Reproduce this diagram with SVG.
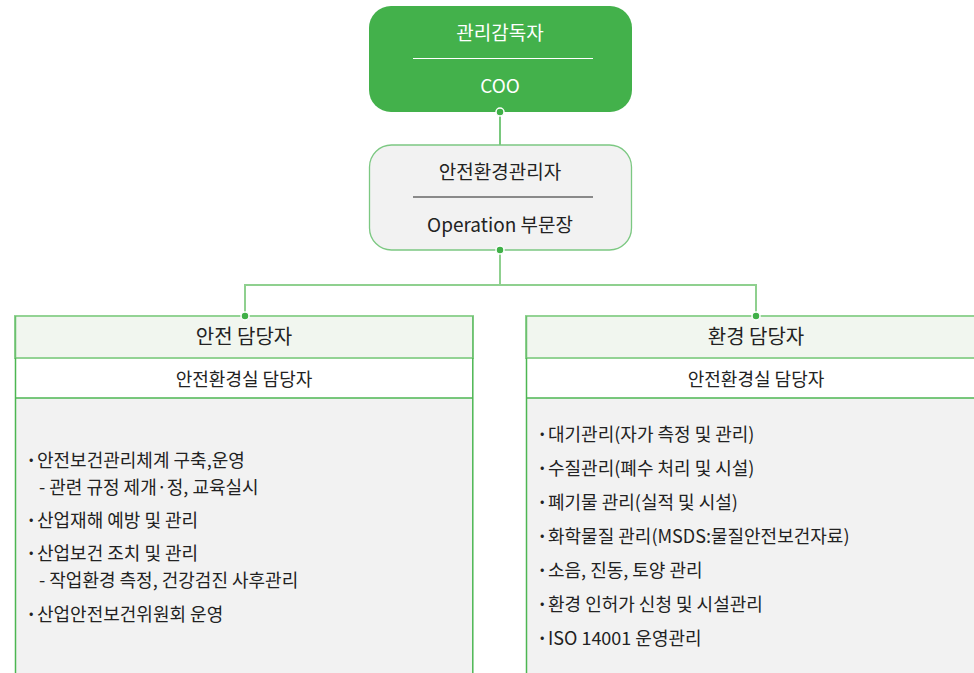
<svg xmlns="http://www.w3.org/2000/svg" width="974" height="673" viewBox="0 0 974 673">
<style>
text{font-family:"Noto Sans CJK KR","Noto Sans",sans-serif;fill:#222;dominant-baseline:central}
.c{text-anchor:middle}
.w{fill:#fff}
.t19{font-size:19px}
.t20{font-size:20px}
.t18{font-size:18px}
.b{font-size:13px}
.hd{fill:#f1f6ef;stroke:#93d394;stroke-width:2}
.sub{fill:#fff}
.body{fill:#f2f2f2}
.edge{fill:none;stroke:#4cb652;stroke-width:1.5}
.conn{fill:none;stroke:#8fd08f;stroke-width:2}
.dot{fill:#3fb047;stroke:#fff;stroke-width:1.5}
</style>
<rect width="974" height="673" fill="#fff"/>
<g id="connectors">
<line x1="500" y1="112" x2="500" y2="145" stroke="#4cb652" stroke-width="1.5"/>
<polyline class="conn" points="245,316 245,285 756,285 756,316"/>
<line class="conn" x1="500" y1="250" x2="500" y2="285"/>
</g>
<g id="coo">
<rect x="369" y="6" width="263" height="106" rx="22" fill="#43b14b"/>
<text class="c w t19" x="500" y="31.5">관리감독자</text>
<line x1="413" y1="58.5" x2="593" y2="58.5" stroke="#fff" stroke-width="1"/>
<text class="c w t19" x="500" y="84.5">COO</text>
</g>
<g id="manager">
<rect x="369.5" y="145" width="262" height="105" rx="22" fill="#f2f2f2" stroke="#7cc882" stroke-width="1.3"/>
<text class="c t19" x="500" y="170.5">안전환경관리자</text>
<line x1="413" y1="197" x2="593" y2="197" stroke="#222" stroke-width="1"/>
<text class="c t19" x="500" y="223.5">Operation 부문장</text>
</g>
<g id="safety">
<rect class="body" x="15" y="398" width="458" height="280"/>
<rect class="sub" x="15" y="358" width="458" height="40"/>
<rect class="hd" x="15" y="316" width="458" height="42"/>
<polyline class="edge" points="15.5,358 15.5,673"/>
<polyline class="edge" points="472.8,358 472.8,673"/>
<line class="edge" x1="15" y1="398" x2="473" y2="398"/>
<line x1="15.5" y1="316" x2="15.5" y2="358" stroke="#6cc070" stroke-width="1.5"/>
<line x1="472.8" y1="316" x2="472.8" y2="358" stroke="#6cc070" stroke-width="1.5"/>
<text class="c t20" x="244" y="335.5">안전 담당자</text>
<text class="c t18" x="244" y="377.5">안전환경실 담당자</text>
<text class="b" x="29" y="458.5">•</text><text class="t18" x="37" y="458.5">안전보건관리체계 구축,운영</text>
<text class="t18" x="39" y="485.5">- 관련 규정 제개·정, 교육실시</text>
<text class="b" x="29" y="518.5">•</text><text class="t18" x="37" y="518.5">산업재해 예방 및 관리</text>
<text class="b" x="29" y="551.5">•</text><text class="t18" x="37" y="551.5">산업보건 조치 및 관리</text>
<text class="t18" x="39" y="578.5">- 작업환경 측정, 건강검진 사후관리</text>
<text class="b" x="29" y="612.5">•</text><text class="t18" x="37" y="612.5">산업안전보건위원회 운영</text>
</g>
<g id="environment">
<rect class="body" x="526" y="398" width="460" height="280"/>
<rect class="sub" x="526" y="358" width="460" height="40"/>
<rect class="hd" x="526" y="316" width="460" height="42"/>
<line class="edge" x1="526.5" y1="358" x2="526.5" y2="673"/>
<line class="edge" x1="526" y1="398" x2="974" y2="398"/>
<line x1="526.5" y1="316" x2="526.5" y2="358" stroke="#6cc070" stroke-width="1.5"/>
<text class="c t20" x="756" y="335.5">환경 담당자</text>
<text class="c t18" x="756" y="377.5">안전환경실 담당자</text>
<text class="b" x="540" y="432.5">•</text><text class="t18" x="548" y="432.5">대기관리(자가 측정 및 관리)</text>
<text class="b" x="540" y="466.5">•</text><text class="t18" x="548" y="466.5">수질관리(폐수 처리 및 시설)</text>
<text class="b" x="540" y="500.5">•</text><text class="t18" x="548" y="500.5">폐기물 관리(실적 및 시설)</text>
<text class="b" x="540" y="534.5">•</text><text class="t18" x="548" y="534.5">화학물질 관리(MSDS:물질안전보건자료)</text>
<text class="b" x="540" y="568.5">•</text><text class="t18" x="548" y="568.5">소음, 진동, 토양 관리</text>
<text class="b" x="540" y="602.5">•</text><text class="t18" x="548" y="602.5">환경 인허가 신청 및 시설관리</text>
<text class="b" x="540" y="636.5">•</text><text class="t18" x="548" y="636.5">ISO 14001 운영관리</text>
</g>
<g id="dots">
<circle class="dot" cx="500" cy="112" r="4"/>
<circle class="dot" cx="500" cy="250" r="4"/>
<circle class="dot" cx="245" cy="316" r="4"/>
<circle class="dot" cx="756" cy="316" r="4"/>
</g>
</svg>
